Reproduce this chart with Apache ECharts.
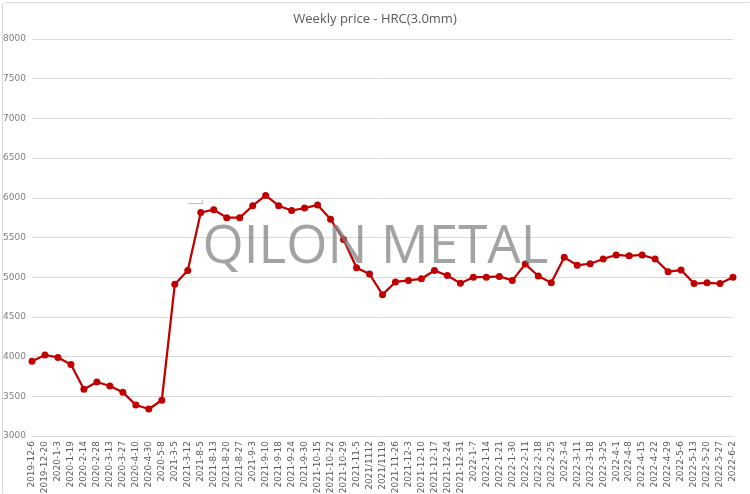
<!DOCTYPE html>
<html><head><meta charset="utf-8">
<script src="https://cdn.jsdelivr.net/npm/echarts@6/dist/echarts.min.js"></script>
<style>html,body{margin:0;padding:0;background:#fff}#c{width:750px;height:494px}</style>
</head><body><div id="c"></div>
<script>
const categories = ["2019-12-6","2019-12-20","2020-1-3","2020-1-19","2020-2-14","2020-2-28","2020-3-13","2020-3-27","2020-4-10","2020-4-30","2020-5-8","2021-3-5","2021-3-12","2021-8-5","2021-8-13","2021-8-20","2021-8-27","2021-9-3","2021-9-10","2021-9-18","2021-9-24","2021-9-30","2021-10-15","2021-10-22","2021-10-29","2021-11-5","2021/1112","2021/1119","2021-11-26","2021-12-3","2021-12-10","2021-12-17","2021-12-24","2021-12-31","2022-1-7","2022-1-14","2022-1-21","2022-1-30","2022-2-11","2022-2-18","2022-2-25","2022-3-4","2022-3-11","2022-3-18","2022-3-25","2022-4-1","2022-4-8","2022-4-15","2022-4-22","2022-4-29","2022-5-6","2022-5-13","2022-5-20","2022-5-27","2022-6-2"];
const prices = [3940,4020,3990,3900,3590,3680,3630,3550,3390,3340,3450,4910,5085,5815,5850,5750,5750,5900,6030,5900,5840,5870,5910,5730,5475,5120,5040,4780,4940,4960,4980,5085,5020,4925,5000,5000,5010,4960,5165,5015,4930,5250,5150,5170,5230,5280,5270,5280,5230,5070,5090,4920,4930,4920,5000];
const yMin = 3000, yMax = 8000, yStep = 500;
const titleText = "Weekly price - HRC(3.0mm)";
const watermark = "QILON METAL";

const chart = echarts.init(document.getElementById('c'), null, {renderer:'canvas'});
chart.setOption({
  animation:false,
  backgroundColor:'#fff',
  title:{text:titleText,left:'center',top:8,textStyle:{fontFamily:'Open Sans',fontSize:13,fontWeight:'normal',color:'#595959'}},
  grid:{left:32,right:17,top:39,bottom:58,containLabel:false,outerBoundsMode:'none'},
  graphic:[
    {type:'rect',left:0,top:0,shape:{x:0.5,y:0.5,width:749,height:493,r:3},style:{fill:'none',stroke:'#d9d9d9',lineWidth:1},z:-1},
    {type:'text',x:375.5,y:248,z:10,style:{text:watermark,fontFamily:'Open Sans',fontSize:53,fontWeight:400,fill:'rgba(128,128,128,0.72)',align:'center',verticalAlign:'middle'}},
    {type:'polyline',shape:{points:[[188,203.5],[202.5,203.5],[202.5,200]]},style:{stroke:'#bfbfbf',lineWidth:1,fill:'none'},z:1}
  ],
  xAxis:{type:'category',data:categories,boundaryGap:false,
    axisLine:{lineStyle:{color:'#d9d9d9'}},axisTick:{show:false},
    axisLabel:{rotate:90,interval:0,fontSize:9,color:'#595959',fontFamily:'DejaVu Sans',margin:5}},
  yAxis:{type:'value',min:yMin,max:yMax,interval:yStep,
    axisLine:{show:false},axisTick:{show:false},
    axisLabel:{fontSize:9,color:'#7f7f7f',fontFamily:'DejaVu Sans',margin:6,formatter:v=>String(v)},
    splitLine:{lineStyle:{color:'#d9d9d9'}}},
  series:[{type:'line',data:prices,z:3,symbol:'circle',symbolSize:7,
    lineStyle:{color:'#c00000',width:2.25},itemStyle:{color:'#c00000'}}]
});
</script></body></html>
